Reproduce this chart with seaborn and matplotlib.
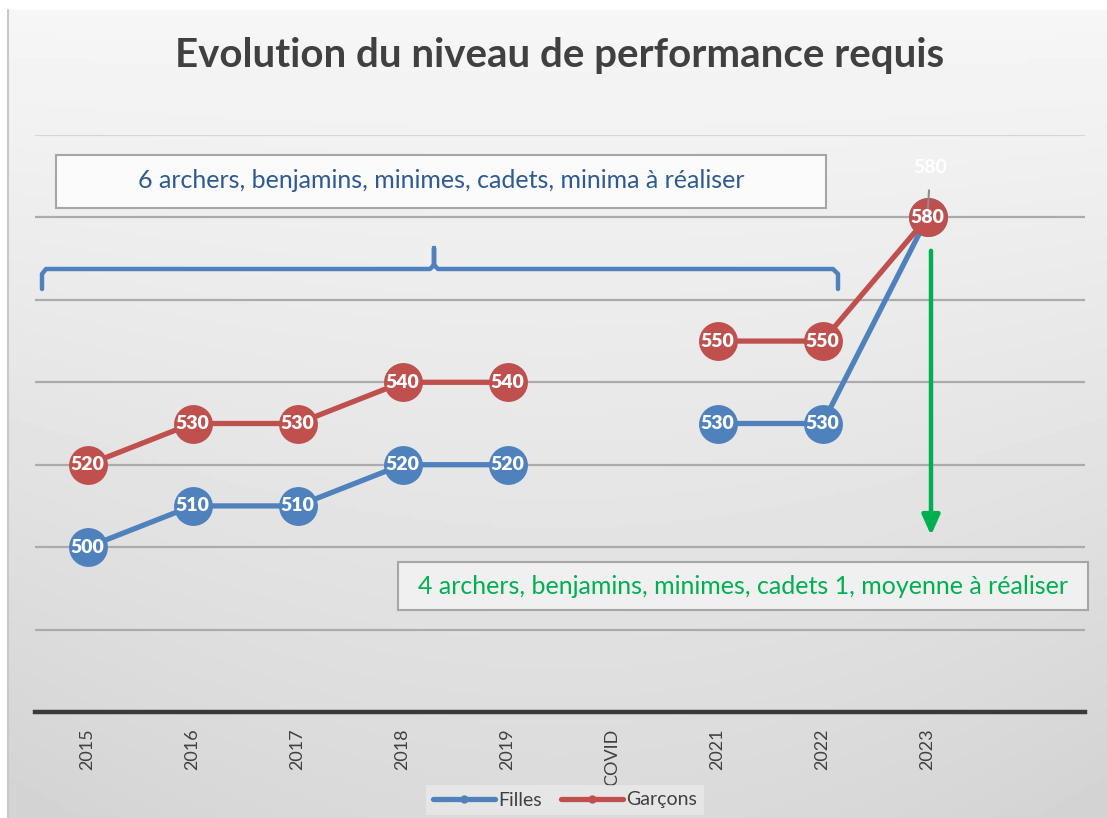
import numpy as np
import pandas as pd
import matplotlib.pyplot as plt
import seaborn as sns
from matplotlib.lines import Line2D
from matplotlib.patches import Rectangle

sns.set_theme(style="white")
plt.rcParams["font.family"] = ["Lato", "DejaVu Sans"]

W, H = 1107, 818

categories = ["2015", "2016", "2017", "2018", "2019", "COVID", "2021", "2022", "2023", ""]
filles = [500, 510, 510, 520, 520, np.nan, 530, 530, 580]
garcons = [520, 530, 530, 540, 540, np.nan, 550, 550, 580]
segments = ["a", "a", "a", "a", "a", "a", "b", "b", "b"]

BLUE = "#4F81BD"
RED = "#C0504D"
GREEN = "#00B050"
DARK = "#404040"


def fx(x):
    return x / W


def fy(y):
    return 1 - y / H


rows = []
for serie, vals in [("Filles", filles), ("Garçons", garcons)]:
    for i, v in enumerate(vals):
        rows.append({"pos": i, "value": v, "serie": serie, "seg": segments[i]})
df = pd.DataFrame(rows).dropna()

fig = plt.figure(figsize=(W / 100, H / 100), dpi=100)
fig.patch.set_facecolor("white")

# fond dégradé
bg = fig.add_axes([fx(8), 0, 1 - fx(8), fy(10)], zorder=-10)
yy = np.linspace(0, 1, 200)[:, None]
xx = np.linspace(-1, 1, 300)[None, :]
grad = 0.965 - 0.11 * yy - 0.03 * (xx ** 2) * yy
bg.imshow(grad, cmap="gray", vmin=0, vmax=1, aspect="auto", extent=[0, 1, 0, 1])
bg.axis("off")
fig.add_artist(Line2D([fx(8), fx(8)], [0, fy(10)], color="#c8c8c8", lw=1.5))

ax = fig.add_axes([fx(35), fy(712), fx(1085) - fx(35), (712 - 135) / H])
ax.patch.set_alpha(0)

for y in [480, 500, 520, 540, 560, 580]:
    ax.axhline(y, color="#ababab", lw=1.6, zorder=0)
ax.axhline(600, color="#d6d6d6", lw=1.6, zorder=0)

sns.lineplot(
    data=df,
    x="pos",
    y="value",
    hue="serie",
    units="seg",
    estimator=None,
    palette={"Filles": BLUE, "Garçons": RED},
    marker="o",
    markersize=28,
    markeredgewidth=0,
    linewidth=3.8,
    legend=False,
    ax=ax,
    zorder=3,
)

for i, v in enumerate(filles):
    if np.isnan(v):
        continue
    if i == len(filles) - 1:
        ax.annotate(str(int(v)), (i, v), xytext=(2, 36), textcoords="offset points",
                    ha="center", va="center", color="white", fontsize=14, fontweight="bold",
                    arrowprops=dict(arrowstyle="-", color="#8c8c8c", lw=1.5,
                                    shrinkA=8, shrinkB=0))
        continue
    ax.text(i, v, str(int(v)), ha="center", va="center", color="white",
            fontsize=14, fontweight="heavy", zorder=5)

for i, v in enumerate(garcons):
    if np.isnan(v):
        continue
    ax.text(i, v, str(int(v)), ha="center", va="center", color="white",
            fontsize=14, fontweight="heavy", zorder=6)

ax.set_xlim(-0.5, len(categories) - 0.5)
ax.set_ylim(460, 600)
ax.set_xticks(range(len(categories)))
ax.set_xticklabels(categories, rotation=90, fontsize=13, color=DARK)
ax.tick_params(axis="x", length=0, pad=12)
ax.set_yticks([])
ax.set_xlabel("")
ax.set_ylabel("")
for s in ["top", "right", "left"]:
    ax.spines[s].set_visible(False)
ax.spines["bottom"].set_color("#3a3a3a")
ax.spines["bottom"].set_linewidth(3.2)

# titre
fig.text(fx(560), fy(56), "Evolution du niveau de performance requis",
         ha="center", va="center", fontsize=29, fontweight="bold", color=DARK)

# encadré haut
fig.add_artist(Rectangle((fx(56), fy(208)), fx(826) - fx(56), (208 - 155) / H,
                         transform=fig.transFigure, facecolor="#fbfbfb",
                         edgecolor="#a6a6a6", lw=1.5, zorder=2))
fig.text(fx(441), fy(181), "6 archers, benjamins, minimes, cadets, minima à réaliser",
         ha="center", va="center", fontsize=18, color="#2E5A94", zorder=3)

# accolade
bx = [fx(42), fx(42), fx(46), fx(430), fx(434), fx(434), fx(434), fx(438), fx(833), fx(838), fx(838)]
by = [fy(289), fy(274), fy(269), fy(269), fy(265), fy(248), fy(265), fy(269), fy(269), fy(274), fy(289)]
fig.add_artist(Line2D(bx, by, color=BLUE, lw=3.2, solid_capstyle="round",
                      solid_joinstyle="round", zorder=2))

# flèche verte
fig.add_artist(plt.Annotation("", xy=(fx(931), fy(538)), xytext=(fx(931), fy(248)),
                              xycoords="figure fraction", textcoords="figure fraction",
                              arrowprops=dict(arrowstyle="-|>,head_width=0.45,head_length=1.0",
                                              color=GREEN, lw=3.2)))

# encadré bas
fig.add_artist(Rectangle((fx(398), fy(610)), fx(1088) - fx(398), (610 - 562) / H,
                         transform=fig.transFigure, facecolor="#f0f0f0",
                         edgecolor="#a6a6a6", lw=1.5, zorder=2))
fig.text(fx(743), fy(586), "4 archers, benjamins, minimes, cadets 1, moyenne à réaliser",
         ha="center", va="center", fontsize=18, color=GREEN, zorder=3)

# légende
handles = [
    Line2D([], [], color=BLUE, lw=3.8, marker="o", markersize=6, markeredgewidth=0),
    Line2D([], [], color=RED, lw=3.8, marker="o", markersize=6, markeredgewidth=0),
]
leg = fig.legend(handles, ["Filles", "Garçons"], loc="center", bbox_to_anchor=(fx(565), fy(800)),
                 ncol=2, frameon=True, fontsize=14, handlelength=3.2, handletextpad=0.15,
                 columnspacing=1.0, borderpad=0.35, fancybox=False)
leg.get_frame().set_facecolor("#e9e9e9")
leg.get_frame().set_edgecolor("none")
for t in leg.get_texts():
    t.set_color(DARK)

fig.savefig("out.png", dpi=100)
